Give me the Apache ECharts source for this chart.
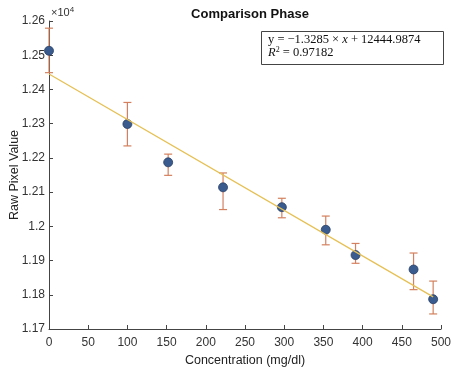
<!DOCTYPE html>
<html>
<head>
<meta charset="utf-8">
<script src="https://cdn.jsdelivr.net/npm/echarts@6/dist/echarts.min.js"></script>
<style>html,body{margin:0;padding:0;background:#fff}#c{width:454px;height:368px}</style>
</head>
<body>
<div id="c"></div>
<script>
var concentration = [0, 100, 152, 222, 297, 353, 391, 465, 490];
var meanValue = [12513, 12299, 12187, 12114, 12056, 11990, 11916, 11874, 11787];
var errLow = [12449, 12235, 12149, 12049, 12025, 11946, 11892, 11815, 11744];
var errHigh = [12579, 12362, 12211, 12156, 12082, 12030, 11950, 11922, 11840];
var fitX = [0, 490];
var fitSlope = -1.3285, fitIntercept = 12444.9874;
var fitY = fitX.map(function (x) { return fitSlope * x + fitIntercept; });
var xTicks = [0, 50, 100, 150, 200, 250, 300, 350, 400, 450, 500];
var yTicks = [1.17, 1.18, 1.19, 1.2, 1.21, 1.22, 1.23, 1.24, 1.25, 1.26];

var chart = echarts.init(document.getElementById('c'), null, {renderer: 'canvas'});
var axisColor = '#444';
var font = 'Liberation Sans, Arial, Helvetica, sans-serif';
var serif = 'Liberation Serif, Times New Roman, serif';
var errData = concentration.map(function (x, i) { return [x, errLow[i], errHigh[i]]; });
var pts = concentration.map(function (x, i) { return [x, meanValue[i]]; });
var fitData = fitX.map(function (x, i) { return [x, fitY[i]]; });

chart.setOption({
  animation: false,
  title: {
    text: 'Comparison Phase', left: 245, top: 3, textAlign: 'center',
    textStyle: {fontFamily: font, fontSize: 13, fontWeight: 'bold', color: '#111'}
  },
  grid: {left: 49, right: 13, top: 21, bottom: 39, containLabel: false, outerBoundsMode: 'none'},
  xAxis: {
    type: 'value', min: 0, max: 500, interval: 50,
    name: 'Concentration (mg/dl)', nameLocation: 'middle', nameGap: 25, nameMoveOverlap: false,
    nameTextStyle: {fontFamily: font, fontSize: 12.5, color: '#222'},
    axisLine: {lineStyle: {color: axisColor, width: 1}},
    axisTick: {inside: true, length: 4, lineStyle: {color: axisColor}},
    axisLabel: {fontFamily: font, fontSize: 12, color: '#333', margin: 8},
    splitLine: {show: false}
  },
  yAxis: {
    type: 'value', min: 11700, max: 12600, interval: 100,
    name: 'Raw Pixel Value', nameLocation: 'middle', nameGap: 28, nameRotate: 90, nameMoveOverlap: false,
    nameTextStyle: {fontFamily: font, fontSize: 12.5, color: '#222'},
    axisLine: {show: true, lineStyle: {color: axisColor, width: 1}},
    axisTick: {show: true, inside: true, length: 4, lineStyle: {color: axisColor}},
    axisLabel: {fontFamily: font, fontSize: 12, color: '#333', margin: 4,
      formatter: function (v) { return String(parseFloat((v / 10000).toFixed(2))); }},
    splitLine: {show: false}
  },
  graphic: [
    {type: 'text', left: 51, top: 6, style: {
      text: '{a|×10}{b|4}', rich: {
        a: {fontFamily: font, fontSize: 11, fill: '#333'},
        b: {fontFamily: font, fontSize: 8, fill: '#333', verticalAlign: 'top', padding: [0, 0, 6, 0]}
      }}},
    {type: 'rect', shape: {x: 261.5, y: 31.5, width: 182, height: 33},
      style: {fill: '#fff', stroke: '#444', lineWidth: 1}, z: 10},
    {type: 'text', left: 268, top: 33, z: 11, style: {
      text: '{r|y = −1.3285 × }{i|x}{r| + 12444.9874}\n{i|R}{s|2}{r| = 0.97182}',
      rich: {
        r: {fontFamily: serif, fontSize: 12.5, fill: '#111', lineHeight: 13},
        i: {fontFamily: serif, fontStyle: 'italic', fontSize: 12.5, fill: '#111', lineHeight: 13},
        s: {fontFamily: serif, fontSize: 8, fill: '#111', verticalAlign: 'top', lineHeight: 13}
      }}}
  ],
  series: [
    {
      type: 'custom', data: errData, z: 2,
      renderItem: function (params, api) {
        var x = api.value(0);
        var lo = api.coord([x, api.value(1)]);
        var hi = api.coord([x, api.value(2)]);
        var cw = 4;
        var st = {stroke: '#d4805e', lineWidth: 1.2};
        return {type: 'group', children: [
          {type: 'line', shape: {x1: lo[0], y1: lo[1], x2: hi[0], y2: hi[1]}, style: st},
          {type: 'line', shape: {x1: lo[0] - cw, y1: lo[1], x2: lo[0] + cw, y2: lo[1]}, style: st},
          {type: 'line', shape: {x1: hi[0] - cw, y1: hi[1], x2: hi[0] + cw, y2: hi[1]}, style: st}
        ]};
      }
    },
    {
      type: 'scatter', data: pts, symbol: 'circle', symbolSize: 9, z: 3,
      itemStyle: {color: '#3a5b8d', borderColor: '#2a3f66', borderWidth: 0.8, opacity: 1}
    },
    {
      type: 'line', data: fitData, showSymbol: false, symbol: 'none', z: 4,
      lineStyle: {color: '#e6c054', width: 1.3}
    }
  ]
});
</script>
</body>
</html>
